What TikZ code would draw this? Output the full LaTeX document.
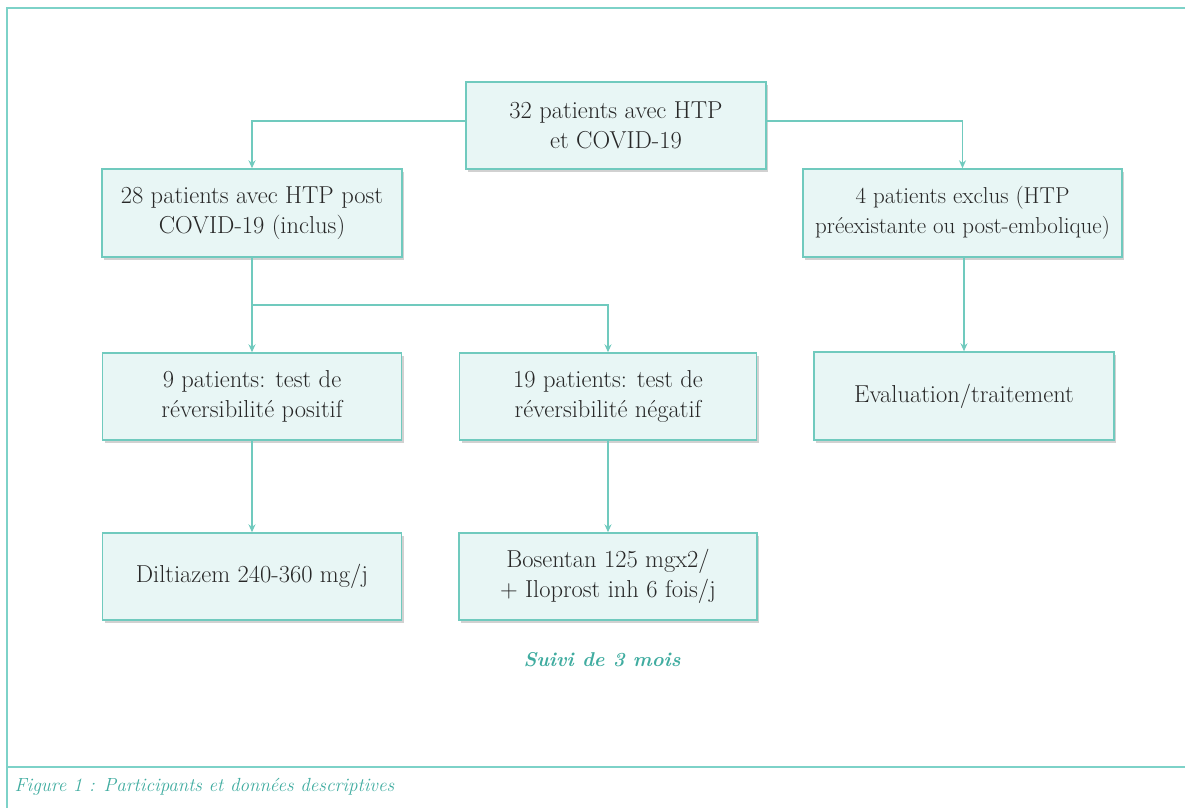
\documentclass[tikz,border=0pt]{standalone}
\usepackage{fontspec}
\usetikzlibrary{arrows.meta,shadows,calc}
\definecolor{teal1}{RGB}{112,202,190}
\definecolor{frame1}{RGB}{125,210,200}
\definecolor{boxfill}{RGB}{232,246,245}
\definecolor{txt}{RGB}{40,40,40}
\definecolor{capc}{RGB}{64,172,160}
\begin{document}
\begin{tikzpicture}[x=1pt,y=1pt,
  flowbox/.style={draw=teal1, line width=1.4pt, fill=boxfill, text=txt,
    minimum height=87pt, align=center, inner sep=0pt,
    font=\fontsize{24.5}{30}\selectfont,
    drop shadow={shadow xshift=2pt, shadow yshift=-3pt, opacity=0.18, fill=black}},
  conn/.style={draw=teal1, line width=1.4pt, -{Stealth[length=8pt,width=7pt]}},
  plain/.style={draw=teal1, line width=1.4pt}]
\useasboundingbox (0,0) rectangle (1185,-808);
% frame
\draw[frame1, line width=1.5pt] (1185,-8) -- (7,-8) -- (7,-808);
\draw[frame1, line width=1.5pt] (7,-767) -- (1185,-767);
% nodes
\node[flowbox, minimum width=300pt] (top) at (616,-125.5) {32 patients avec HTP\\et COVID-19};
\node[flowbox, minimum width=300pt, minimum height=88pt] (A) at (252,-213) {28 patients avec HTP post\\COVID-19 (inclus)};
\node[flowbox, minimum width=319pt, minimum height=88pt, font=\fontsize{23}{30}\selectfont] (B) at (962.5,-213) {4 patients exclus (HTP\\préexistante ou post-embolique)};
\node[flowbox, minimum width=299pt] (p9) at (252,-396.5) {9 patients: test de\\réversibilité positif};
\node[flowbox, minimum width=297pt] (p19) at (608,-396.5) {19 patients: test de\\réversibilité négatif};
\node[flowbox, minimum width=300pt, minimum height=88pt] (ev) at (964,-396) {Evaluation/traitement};
\node[flowbox, minimum width=299pt] (dil) at (252,-576.5) {Diltiazem 240-360 mg/j};
\node[flowbox, minimum width=298pt] (bos) at (608,-576.5) {Bosentan 125 mgx2/\\+ Iloprost inh 6 fois/j};
\node[font=\fontsize{20}{24}\selectfont\bfseries\itshape, text=capc] (suivi) at (602,-660) {Suivi de 3 mois};
\node[anchor=west, font=\fontsize{19}{22}\selectfont\itshape, text=capc] (cap) at (11,-787) {Figure 1 : Participants et données descriptives};
% connectors
\coordinate (j) at ($(A.south)!0.5!(p9.north)$);
\draw[conn] ([yshift=4.5pt]top.west) -| (A.north);
\draw[conn] ([yshift=4.5pt]top.east) -| (B.north);
\draw[conn] (A.south) -- (p9.north);
\draw[conn] (j) -| (p19.north);
\draw[conn] (B.south -| ev.north) -- (ev.north);
\draw[conn] (p9.south) -- (dil.north);
\draw[conn] (p19.south) -- (bos.north);
\end{tikzpicture}
\end{document}
